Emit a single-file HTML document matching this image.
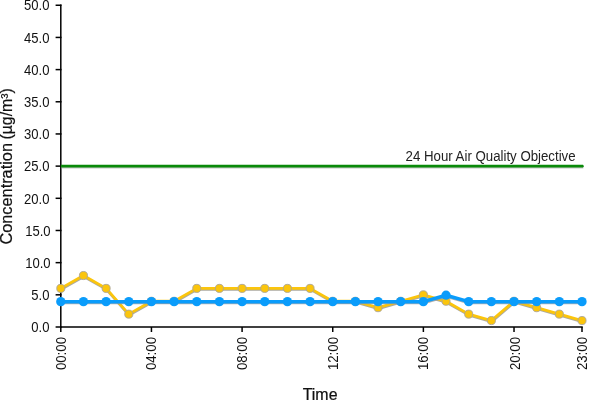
<!DOCTYPE html>
<html><head><meta charset="utf-8"><title>Chart</title>
<style>
html,body{margin:0;padding:0;background:#fff;}
svg{display:block;}
text{font-family:"Liberation Sans",Arial,sans-serif;fill:#111;}
</style></head><body>
<svg width="600" height="400" viewBox="0 0 600 400">
<rect width="600" height="400" fill="#fff"/>

<line x1="55.6" x2="61.5" y1="327.0" y2="327.0" stroke="#000" stroke-width="1.5"/>
<text transform="translate(49.5,332.2) scale(0.935,1)" font-size="14" text-anchor="end">0.0</text>
<line x1="55.6" x2="61.5" y1="294.82" y2="294.82" stroke="#000" stroke-width="1.5"/>
<text transform="translate(49.5,300.02) scale(0.935,1)" font-size="14" text-anchor="end">5.0</text>
<line x1="55.6" x2="61.5" y1="262.65" y2="262.65" stroke="#000" stroke-width="1.5"/>
<text transform="translate(50.6,267.84999999999997) scale(0.935,1)" font-size="14" text-anchor="end">10.0</text>
<line x1="55.6" x2="61.5" y1="230.48" y2="230.48" stroke="#000" stroke-width="1.5"/>
<text transform="translate(50.6,235.67999999999998) scale(0.935,1)" font-size="14" text-anchor="end">15.0</text>
<line x1="55.6" x2="61.5" y1="198.3" y2="198.3" stroke="#000" stroke-width="1.5"/>
<text transform="translate(49.5,203.5) scale(0.935,1)" font-size="14" text-anchor="end">20.0</text>
<line x1="55.6" x2="61.5" y1="166.12" y2="166.12" stroke="#000" stroke-width="1.5"/>
<text transform="translate(49.5,171.32) scale(0.935,1)" font-size="14" text-anchor="end">25.0</text>
<line x1="55.6" x2="61.5" y1="133.95" y2="133.95" stroke="#000" stroke-width="1.5"/>
<text transform="translate(49.5,139.14999999999998) scale(0.935,1)" font-size="14" text-anchor="end">30.0</text>
<line x1="55.6" x2="61.5" y1="101.78" y2="101.78" stroke="#000" stroke-width="1.5"/>
<text transform="translate(49.5,106.98) scale(0.935,1)" font-size="14" text-anchor="end">35.0</text>
<line x1="55.6" x2="61.5" y1="69.6" y2="69.6" stroke="#000" stroke-width="1.5"/>
<text transform="translate(49.5,74.8) scale(0.935,1)" font-size="14" text-anchor="end">40.0</text>
<line x1="55.6" x2="61.5" y1="37.43" y2="37.43" stroke="#000" stroke-width="1.5"/>
<text transform="translate(49.5,42.63) scale(0.935,1)" font-size="14" text-anchor="end">45.0</text>
<line x1="55.6" x2="61.5" y1="5.25" y2="5.25" stroke="#000" stroke-width="1.5"/>
<text transform="translate(49.5,10.45) scale(0.935,1)" font-size="14" text-anchor="end">50.0</text>
<line x1="60.8" x2="60.8" y1="327" y2="332" stroke="#000" stroke-width="1.5"/>
<text transform="translate(66,337) rotate(-90) scale(0.945,1)" font-size="14" text-anchor="end">00:00</text>
<line x1="151.44" x2="151.44" y1="327" y2="332" stroke="#000" stroke-width="1.5"/>
<text transform="translate(156,337) rotate(-90) scale(0.945,1)" font-size="14" text-anchor="end">04:00</text>
<line x1="242.09" x2="242.09" y1="327" y2="332" stroke="#000" stroke-width="1.5"/>
<text transform="translate(247,337) rotate(-90) scale(0.945,1)" font-size="14" text-anchor="end">08:00</text>
<line x1="332.73" x2="332.73" y1="327" y2="332" stroke="#000" stroke-width="1.5"/>
<text transform="translate(338,337) rotate(-90) scale(0.945,1)" font-size="14" text-anchor="end">12:00</text>
<line x1="423.37" x2="423.37" y1="327" y2="332" stroke="#000" stroke-width="1.5"/>
<text transform="translate(428,337) rotate(-90) scale(0.945,1)" font-size="14" text-anchor="end">16:00</text>
<line x1="514.02" x2="514.02" y1="327" y2="332" stroke="#000" stroke-width="1.5"/>
<text transform="translate(520,337) rotate(-90) scale(0.945,1)" font-size="14" text-anchor="end">20:00</text>
<line x1="582.0" x2="582.0" y1="327" y2="332" stroke="#000" stroke-width="1.5"/>
<text transform="translate(587,337) rotate(-90) scale(0.945,1)" font-size="14" text-anchor="end">23:00</text>
<line x1="60.8" x2="60.8" y1="4.5" y2="327.75" stroke="#000" stroke-width="1.5"/>
<line x1="60" x2="582.75" y1="327" y2="327" stroke="#000" stroke-width="1.5"/>
<line x1="61" x2="583.3" y1="167.1" y2="167.1" stroke="#999" stroke-width="2.8" opacity="0.55"/>
<line x1="60.8" x2="583" y1="166.2" y2="166.2" stroke="#0a8a0a" stroke-width="2.8"/>
<polygon points="583,164.8 584,166.2 583,167.6" fill="#0a8a0a"/>
<text transform="translate(575.6,161.2) scale(0.915,1)" font-size="14.5" text-anchor="end" style="fill:#222">24 Hour Air Quality Objective</text>
<polyline points="60.8,288.39 83.46,275.52 106.12,288.39 128.78,314.13 151.44,301.26 174.1,301.26 196.77,288.39 219.43,288.39 242.09,288.39 264.75,288.39 287.41,288.39 310.07,288.39 332.73,301.26 355.39,301.26 378.05,307.69 400.71,301.26 423.37,294.82 446.03,301.26 468.7,314.13 491.36,320.56 514.02,301.26 536.68,307.69 559.34,314.13 582.0,320.56" fill="none" stroke="#a8a49a" stroke-width="2.8" stroke-linejoin="round" transform="translate(0.3,1.0)" opacity="0.95"/>
<polyline points="60.8,288.39 83.46,275.52 106.12,288.39 128.78,314.13 151.44,301.26 174.1,301.26 196.77,288.39 219.43,288.39 242.09,288.39 264.75,288.39 287.41,288.39 310.07,288.39 332.73,301.26 355.39,301.26 378.05,307.69 400.71,301.26 423.37,294.82 446.03,301.26 468.7,314.13 491.36,320.56 514.02,301.26 536.68,307.69 559.34,314.13 582.0,320.56" fill="none" stroke="#fbc50c" stroke-width="2.8" stroke-linejoin="round"/>
<circle cx="60.8" cy="288.39" r="4.05" fill="#fbc50c" stroke="#aaa59a" stroke-width="0.9"/>
<circle cx="83.46" cy="275.52" r="4.05" fill="#fbc50c" stroke="#aaa59a" stroke-width="0.9"/>
<circle cx="106.12" cy="288.39" r="4.05" fill="#fbc50c" stroke="#aaa59a" stroke-width="0.9"/>
<circle cx="128.78" cy="314.13" r="4.05" fill="#fbc50c" stroke="#aaa59a" stroke-width="0.9"/>
<circle cx="151.44" cy="301.26" r="4.05" fill="#fbc50c" stroke="#aaa59a" stroke-width="0.9"/>
<circle cx="174.1" cy="301.26" r="4.05" fill="#fbc50c" stroke="#aaa59a" stroke-width="0.9"/>
<circle cx="196.77" cy="288.39" r="4.05" fill="#fbc50c" stroke="#aaa59a" stroke-width="0.9"/>
<circle cx="219.43" cy="288.39" r="4.05" fill="#fbc50c" stroke="#aaa59a" stroke-width="0.9"/>
<circle cx="242.09" cy="288.39" r="4.05" fill="#fbc50c" stroke="#aaa59a" stroke-width="0.9"/>
<circle cx="264.75" cy="288.39" r="4.05" fill="#fbc50c" stroke="#aaa59a" stroke-width="0.9"/>
<circle cx="287.41" cy="288.39" r="4.05" fill="#fbc50c" stroke="#aaa59a" stroke-width="0.9"/>
<circle cx="310.07" cy="288.39" r="4.05" fill="#fbc50c" stroke="#aaa59a" stroke-width="0.9"/>
<circle cx="332.73" cy="301.26" r="4.05" fill="#fbc50c" stroke="#aaa59a" stroke-width="0.9"/>
<circle cx="355.39" cy="301.26" r="4.05" fill="#fbc50c" stroke="#aaa59a" stroke-width="0.9"/>
<circle cx="378.05" cy="307.69" r="4.05" fill="#fbc50c" stroke="#aaa59a" stroke-width="0.9"/>
<circle cx="400.71" cy="301.26" r="4.05" fill="#fbc50c" stroke="#aaa59a" stroke-width="0.9"/>
<circle cx="423.37" cy="294.82" r="4.05" fill="#fbc50c" stroke="#aaa59a" stroke-width="0.9"/>
<circle cx="446.03" cy="301.26" r="4.05" fill="#fbc50c" stroke="#aaa59a" stroke-width="0.9"/>
<circle cx="468.7" cy="314.13" r="4.05" fill="#fbc50c" stroke="#aaa59a" stroke-width="0.9"/>
<circle cx="491.36" cy="320.56" r="4.05" fill="#fbc50c" stroke="#aaa59a" stroke-width="0.9"/>
<circle cx="514.02" cy="301.26" r="4.05" fill="#fbc50c" stroke="#aaa59a" stroke-width="0.9"/>
<circle cx="536.68" cy="307.69" r="4.05" fill="#fbc50c" stroke="#aaa59a" stroke-width="0.9"/>
<circle cx="559.34" cy="314.13" r="4.05" fill="#fbc50c" stroke="#aaa59a" stroke-width="0.9"/>
<circle cx="582.0" cy="320.56" r="4.05" fill="#fbc50c" stroke="#aaa59a" stroke-width="0.9"/>
<polyline points="60.8,301.26 83.46,301.26 106.12,301.26 128.78,301.26 151.44,301.26 174.1,301.26 196.77,301.26 219.43,301.26 242.09,301.26 264.75,301.26 287.41,301.26 310.07,301.26 332.73,301.26 355.39,301.26 378.05,301.26 400.71,301.26 423.37,301.26 446.03,294.82 468.7,301.26 491.36,301.26 514.02,301.26 536.68,301.26 559.34,301.26 582.0,301.26" fill="none" stroke="#9a9a9a" stroke-width="3.3" stroke-linejoin="round" transform="translate(0.3,1.4)" opacity="0.8"/>
<polyline points="60.8,301.26 83.46,301.26 106.12,301.26 128.78,301.26 151.44,301.26 174.1,301.26 196.77,301.26 219.43,301.26 242.09,301.26 264.75,301.26 287.41,301.26 310.07,301.26 332.73,301.26 355.39,301.26 378.05,301.26 400.71,301.26 423.37,301.26 446.03,294.82 468.7,301.26 491.36,301.26 514.02,301.26 536.68,301.26 559.34,301.26 582.0,301.26" fill="none" stroke="#0a9cfb" stroke-width="3.5" stroke-linejoin="round" transform="translate(0,0.4)"/>
<circle cx="60.8" cy="301.26" r="4.65" fill="#0a9cfb" transform="translate(0,0.4)"/>
<circle cx="83.46" cy="301.26" r="4.65" fill="#0a9cfb" transform="translate(0,0.4)"/>
<circle cx="106.12" cy="301.26" r="4.65" fill="#0a9cfb" transform="translate(0,0.4)"/>
<circle cx="128.78" cy="301.26" r="4.65" fill="#0a9cfb" transform="translate(0,0.4)"/>
<circle cx="151.44" cy="301.26" r="4.65" fill="#0a9cfb" transform="translate(0,0.4)"/>
<circle cx="174.1" cy="301.26" r="4.65" fill="#0a9cfb" transform="translate(0,0.4)"/>
<circle cx="196.77" cy="301.26" r="4.65" fill="#0a9cfb" transform="translate(0,0.4)"/>
<circle cx="219.43" cy="301.26" r="4.65" fill="#0a9cfb" transform="translate(0,0.4)"/>
<circle cx="242.09" cy="301.26" r="4.65" fill="#0a9cfb" transform="translate(0,0.4)"/>
<circle cx="264.75" cy="301.26" r="4.65" fill="#0a9cfb" transform="translate(0,0.4)"/>
<circle cx="287.41" cy="301.26" r="4.65" fill="#0a9cfb" transform="translate(0,0.4)"/>
<circle cx="310.07" cy="301.26" r="4.65" fill="#0a9cfb" transform="translate(0,0.4)"/>
<circle cx="332.73" cy="301.26" r="4.65" fill="#0a9cfb" transform="translate(0,0.4)"/>
<circle cx="355.39" cy="301.26" r="4.65" fill="#0a9cfb" transform="translate(0,0.4)"/>
<circle cx="378.05" cy="301.26" r="4.65" fill="#0a9cfb" transform="translate(0,0.4)"/>
<circle cx="400.71" cy="301.26" r="4.65" fill="#0a9cfb" transform="translate(0,0.4)"/>
<circle cx="423.37" cy="301.26" r="4.65" fill="#0a9cfb" transform="translate(0,0.4)"/>
<circle cx="446.03" cy="294.82" r="4.65" fill="#0a9cfb" transform="translate(0,0.4)"/>
<circle cx="468.7" cy="301.26" r="4.65" fill="#0a9cfb" transform="translate(0,0.4)"/>
<circle cx="491.36" cy="301.26" r="4.65" fill="#0a9cfb" transform="translate(0,0.4)"/>
<circle cx="514.02" cy="301.26" r="4.65" fill="#0a9cfb" transform="translate(0,0.4)"/>
<circle cx="536.68" cy="301.26" r="4.65" fill="#0a9cfb" transform="translate(0,0.4)"/>
<circle cx="559.34" cy="301.26" r="4.65" fill="#0a9cfb" transform="translate(0,0.4)"/>
<circle cx="582.0" cy="301.26" r="4.65" fill="#0a9cfb" transform="translate(0,0.4)"/>
<text transform="translate(12.4,244.6) rotate(-90) scale(1.02,1)" font-size="16" text-anchor="start" style="stroke:#111;stroke-width:0.2px">Concentration</text>
<text transform="translate(12.4,88.2) rotate(-90) scale(0.99,1)" font-size="16" text-anchor="end" style="stroke:#111;stroke-width:0.2px">(µg/m³)</text>
<text transform="translate(320.1,399.5) scale(0.99,1)" font-size="16.1" text-anchor="middle" style="stroke:#111;stroke-width:0.25px">Time</text>
</svg></body></html>
